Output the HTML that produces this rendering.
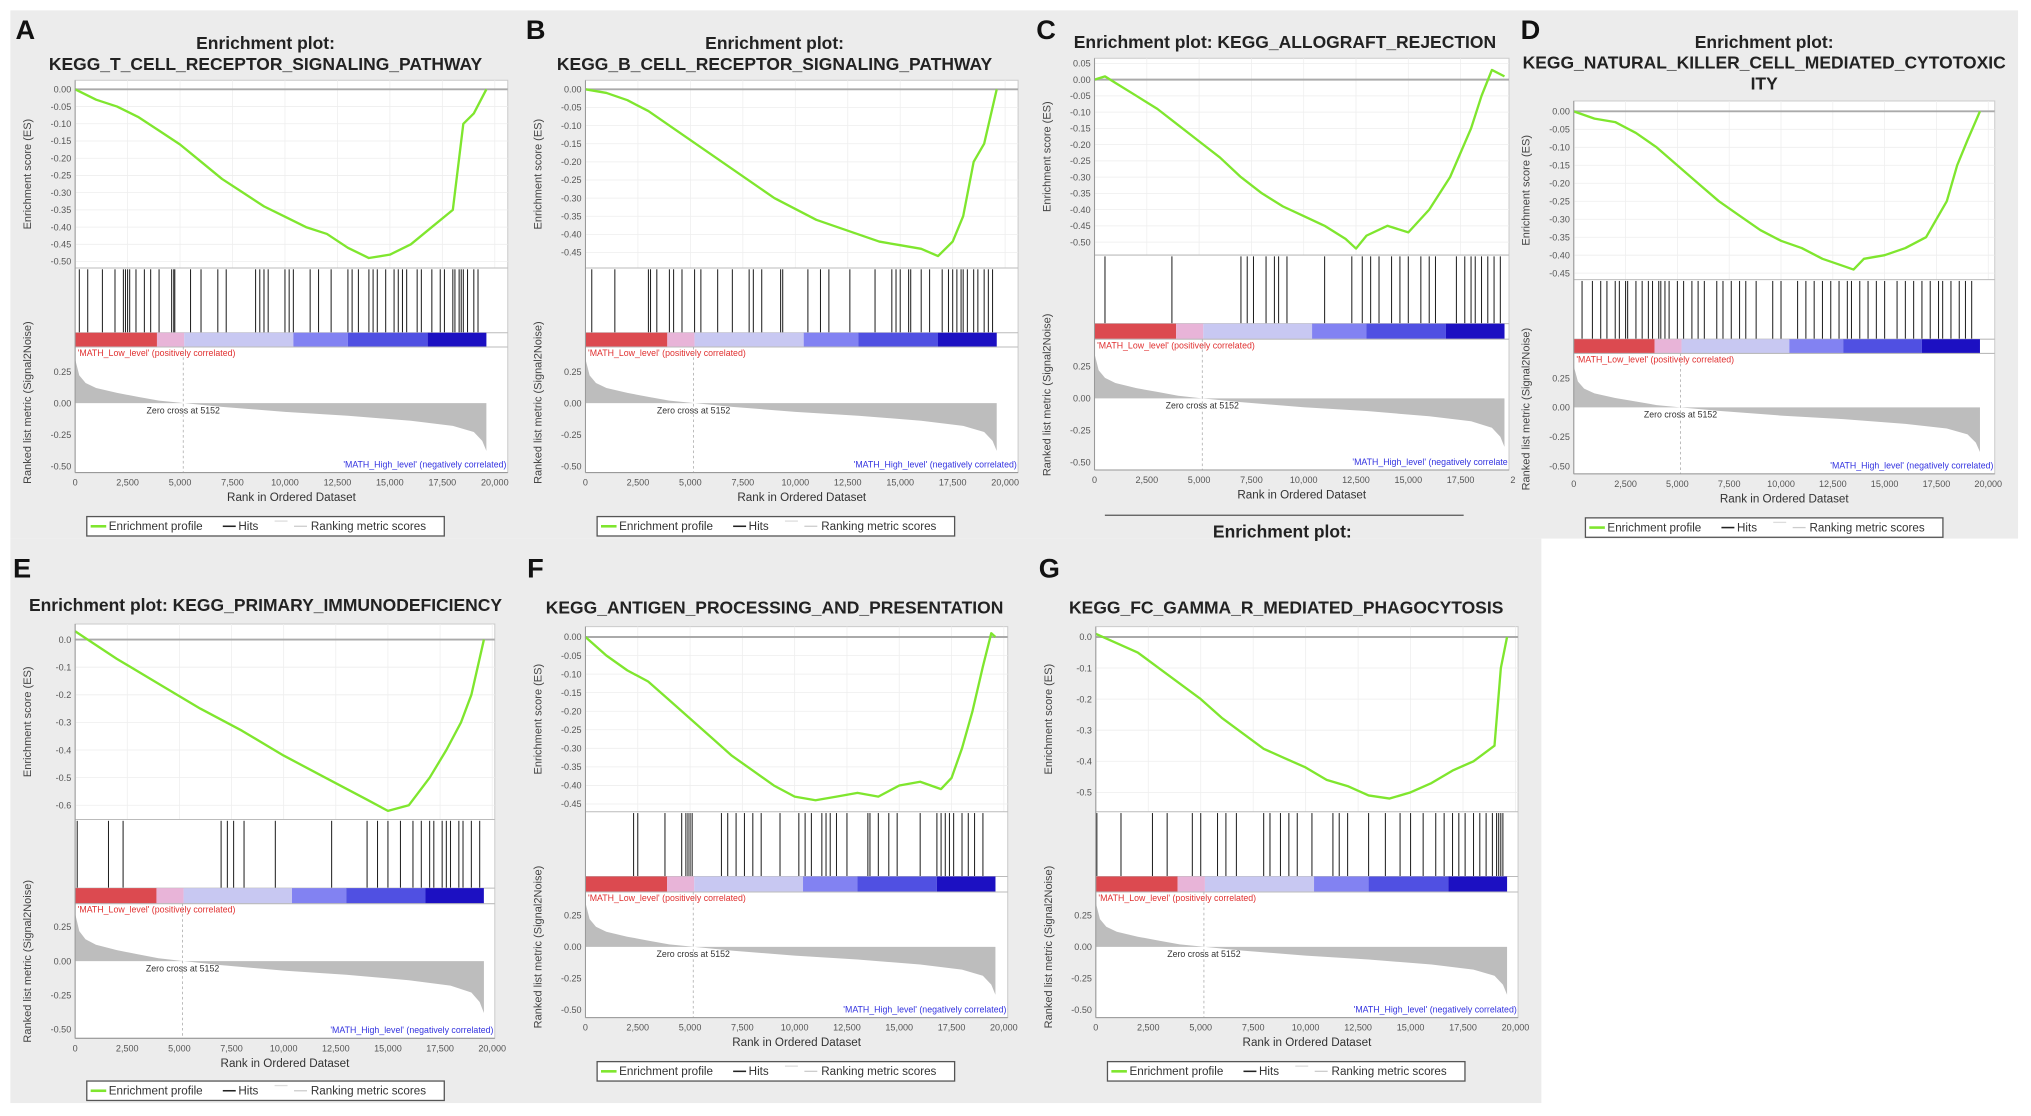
<!DOCTYPE html>
<html><head><meta charset="utf-8"><style>
html,body{margin:0;padding:0;background:#fff;}
svg{display:block;font-family:"Liberation Sans",sans-serif;}
</style></head><body>
<svg id="fig" width="2031" height="1116" viewBox="0 0 1568 862" preserveAspectRatio="none" xmlns="http://www.w3.org/2000/svg">
<rect x="0" y="0" width="1568" height="862" fill="#fff"/>
<rect x="8" y="8" width="1550" height="408" fill="#ececec"/>
<rect x="8" y="416" width="1182" height="436" fill="#ececec"/>
</svg>
<script>
// ---- data (rank in thousands) ----
const esRanksA=[0,1,2,3,4,5,6,7,8,9,10,11,12,13,14,15,16,17,18,18.5,19,19.6];
const esValsA=[0,-0.03,-0.05,-0.08,-0.12,-0.16,-0.21,-0.26,-0.30,-0.34,-0.37,-0.40,-0.42,-0.46,-0.49,-0.48,-0.45,-0.40,-0.35,-0.10,-0.07,0];
const esRanksB=[0,1,2,3,4,5,6,7,8,9,10,11,12,13,14,15,16,16.8,17.5,18,18.5,19,19.6];
const esValsB=[0,-0.01,-0.03,-0.06,-0.10,-0.14,-0.18,-0.22,-0.26,-0.30,-0.33,-0.36,-0.38,-0.40,-0.42,-0.43,-0.44,-0.46,-0.42,-0.35,-0.20,-0.15,0];
const esRanksC=[0,0.5,1,2,3,4,5,6,7,8,9,10,11,12,12.5,13,14,15,16,17,18,18.5,19,19.6];
const esValsC=[0,0.01,-0.01,-0.05,-0.09,-0.14,-0.19,-0.24,-0.30,-0.35,-0.39,-0.42,-0.45,-0.49,-0.52,-0.48,-0.45,-0.47,-0.40,-0.30,-0.15,-0.05,0.03,0.01];
const esRanksD=[0,1,2,3,4,5,6,7,8,9,10,11,12,13,13.5,14,15,16,17,18,18.5,19,19.6];
const esValsD=[0,-0.02,-0.03,-0.06,-0.10,-0.15,-0.20,-0.25,-0.29,-0.33,-0.36,-0.38,-0.41,-0.43,-0.44,-0.41,-0.40,-0.38,-0.35,-0.25,-0.15,-0.08,0];
const esRanksE=[0,2,4,6,8,10,12,14,15,16,17,17.8,18.5,19,19.6];
const esValsE=[0.03,-0.07,-0.16,-0.25,-0.33,-0.42,-0.50,-0.58,-0.62,-0.60,-0.50,-0.40,-0.30,-0.20,0];
const esRanksF=[0,1,2,3,4,5,6,7,8,9,10,11,12,13,14,15,16,17,17.5,18,18.5,19,19.4,19.6];
const esValsF=[0,-0.05,-0.09,-0.12,-0.17,-0.22,-0.27,-0.32,-0.36,-0.40,-0.43,-0.44,-0.43,-0.42,-0.43,-0.40,-0.39,-0.41,-0.38,-0.30,-0.20,-0.08,0.01,0];
const esRanksG=[0,1,2,3,4,5,6,7,8,9,10,11,12,13,14,15,16,17,18,19,19.3,19.6];
const esValsG=[0.01,-0.02,-0.05,-0.10,-0.15,-0.20,-0.26,-0.31,-0.36,-0.39,-0.42,-0.46,-0.48,-0.51,-0.52,-0.50,-0.47,-0.43,-0.40,-0.35,-0.10,0];
const hitsA=[0.2,0.6,1.3,1.9,2.3,2.4,2.5,2.6,2.9,3.3,3.6,4.0,4.6,4.7,4.75,5.5,6.0,6.8,7.2,8.6,8.8,9.0,9.2,10.0,10.2,10.4,11.2,11.6,12.2,13.0,13.2,13.5,14.0,14.2,14.4,14.8,15.2,15.4,15.6,15.8,16.3,16.5,17.0,17.4,17.6,18.0,18.1,18.3,18.4,18.5,18.7,19.0,19.2];
const hitsB=[0.3,1.4,3.0,3.1,3.4,4.0,4.2,4.6,5.2,5.5,6.3,7.0,7.8,8.0,8.4,9.3,9.4,10.6,11.2,11.6,12.6,13.8,14.6,14.8,15.0,15.4,15.5,16.0,16.4,17.0,17.3,17.5,17.7,17.9,18.0,18.2,18.5,18.7,19.0,19.2,19.4];
const hitsC=[0.5,3.7,7.0,7.3,7.6,8.2,8.6,8.8,9.2,11.0,12.3,12.8,13.2,13.6,14.2,14.6,15.0,15.6,16.0,16.3,17.3,17.7,18.0,18.2,18.5,18.8,19.1,19.4];
const hitsD=[0.4,0.9,1.3,1.6,2.0,2.2,2.5,2.6,3.0,3.3,3.6,3.8,4.1,4.2,4.4,4.6,5.0,5.3,5.7,6.0,6.3,6.9,7.2,7.6,8.0,8.3,8.8,9.6,10.0,10.8,11.2,11.6,12.0,12.4,12.8,13.2,13.4,13.8,14.2,14.6,15.0,15.6,16.0,16.4,16.8,17.2,17.6,17.8,18.2,18.6,18.9,19.2];
const hitsE=[0.1,1.6,2.3,7.0,7.3,7.6,8.1,9.6,12.3,14.0,14.5,15.0,15.6,16.2,16.6,17.0,17.2,17.6,17.8,18.0,18.4,18.6,19.0,19.4];
const hitsF=[2.3,2.5,3.8,4.6,4.8,4.9,5.0,5.1,6.5,6.8,7.2,7.6,8.0,8.4,9.3,10.2,10.5,10.8,11.3,11.5,11.7,12.0,12.5,13.5,13.6,14.0,14.5,14.9,16.0,16.8,17.0,17.2,17.4,17.6,18.0,18.3,18.6,19.0];
const hitsG=[0.05,1.2,2.7,3.4,4.6,5.0,5.8,6.2,6.7,8.0,8.3,8.8,9.2,9.6,10.3,11.3,11.6,12.0,13.0,13.8,14.5,15.0,15.6,16.2,16.6,17.0,17.3,17.6,18.0,18.3,18.6,18.9,19.1,19.2,19.3,19.4];
const rkRanks=[0,0.2,0.5,1,2,3,4,5.15,7,10,13,16,18,19,19.4,19.6];
const rkVals=[0.35,0.22,0.16,0.12,0.08,0.05,0.02,0,-0.03,-0.07,-0.10,-0.14,-0.18,-0.23,-0.30,-0.38];
const xTickVals=[0,2.5,5,7.5,10,12.5,15,17.5,20];
const xTickLabels=['0','2,500','5,000','7,500','10,000','12,500','15,000','17,500','20,000'];
const rkTicks=[0.25,0,-0.25,-0.5];
const rkTickLabels=['0.25','0.00','-0.25','-0.50'];
const cbStops=[0,3.9,5.2,10.4,13,16.8,19.6];
const cbColors=['#dc4a50','#e8b4d8','#c8c8f2','#8282f2','#5050e2','#1c10c2'];

const panels=[
 {id:'a',L:'A',lx:12,ly:30,title:['Enrichment plot:','KEGG_T_CELL_RECEPTOR_SIGNALING_PATHWAY'],tx:205,ty:[38,54],x0:58,x20:382,fr:392,top:62,es:[0,69,-0.5,202],esT:[0,-0.5,0.05,2],esB:207,hB:257,cB:268,rk:[0.25,287,-0.5,360],ax:365,legY:399,legX:67,r:esRanksA,v:esValsA,h:hitsA,cut:false},
 {id:'b',L:'B',lx:406,ly:30,title:['Enrichment plot:','KEGG_B_CELL_RECEPTOR_SIGNALING_PATHWAY'],tx:598,ty:[38,54],x0:452,x20:776,fr:786,top:62,es:[0,69,-0.45,195],esT:[0,-0.45,0.05,2],esB:207,hB:257,cB:268,rk:[0.25,287,-0.5,360],ax:365,legY:399,legX:461,r:esRanksB,v:esValsB,h:hitsB,cut:false},
 {id:'c',L:'C',lx:800,ly:30,title:['Enrichment plot: KEGG_ALLOGRAFT_REJECTION'],tx:992,ty:[37],x0:845,x20:1168,fr:1165,top:45,es:[0,61.5,-0.5,187],esT:[0.05,-0.5,0.05,2],esB:197,hB:250,cB:262,rk:[0.25,283,-0.5,357],ax:363,legY:null,legX:853,r:esRanksC,v:esValsC,h:hitsC,cut:true},
 {id:'d',L:'D',lx:1174,ly:30,title:['Enrichment plot:','KEGG_NATURAL_KILLER_CELL_MEDIATED_CYTOTOXIC','ITY'],tx:1362,ty:[37,53,69],x0:1215,x20:1535,fr:1540,top:78,es:[0,86,-0.45,211],esT:[0,-0.45,0.05,2],esB:216,hB:262,cB:273,rk:[0.25,292,-0.5,360],ax:366,legY:400,legX:1224,r:esRanksD,v:esValsD,h:hitsD,cut:false},
 {id:'e',L:'E',lx:10,ly:446,title:['Enrichment plot: KEGG_PRIMARY_IMMUNODEFICIENCY'],tx:205,ty:[472],x0:58,x20:380,fr:382,top:482,es:[0,494,-0.6,622],esT:[0,-0.6,0.1,1],esB:633,hB:686,cB:698,rk:[0.25,716,-0.5,795],ax:802,legY:835,legX:67,r:esRanksE,v:esValsE,h:hitsE,cut:false},
 {id:'f',L:'F',lx:407,ly:446,title:['KEGG_ANTIGEN_PROCESSING_AND_PRESENTATION'],tx:598,ty:[474],x0:452,x20:775,fr:778,top:484,es:[0,492,-0.45,621],esT:[0,-0.45,0.05,2],esB:627,hB:677,cB:689,rk:[0.25,707,-0.5,780],ax:786,legY:820,legX:461,r:esRanksF,v:esValsF,h:hitsF,cut:false},
 {id:'g',L:'G',lx:802,ly:446,title:['KEGG_FC_GAMMA_R_MEDIATED_PHAGOCYTOSIS'],tx:993,ty:[474],x0:846,x20:1170,fr:1172,top:484,es:[0,492,-0.5,612],esT:[0,-0.5,0.1,1],esB:627,hB:677,cB:689,rk:[0.25,707,-0.5,780],ax:786,legY:820,legX:855,r:esRanksG,v:esValsG,h:hitsG,cut:false}
];
const NS='http://www.w3.org/2000/svg';
const svg=document.getElementById('fig');
function mk(tag,attrs,parent,text){const e=document.createElementNS(NS,tag);for(const k in attrs)e.setAttribute(k,attrs[k]);if(text!==undefined)e.textContent=text;(parent||svg).appendChild(e);return e;}

panels.forEach(p=>{
 const g=mk('g',{});
 
 
 const X=r=>p.x0+(r/20)*(p.x20-p.x0);
 const YE=v=>p.es[1]+(v-p.es[0])*(p.es[3]-p.es[1])/(p.es[2]-p.es[0]);
 const YR=v=>p.rk[1]+(v-p.rk[0])*(p.rk[3]-p.rk[1])/(p.rk[2]-p.rk[0]);
 const lab=mk('text',{x:p.lx,y:p.ly,'font-size':21,'font-weight':'bold',fill:'#111'},g,p.L);
 
 
 p.title.forEach((t,i)=>{const te=mk('text',{x:p.tx,y:p.ty[i],'font-size':13.5,'font-weight':'bold','text-anchor':'middle',fill:'#222'},g,t);
  
  });
 // plot area
 const fr=mk('rect',{x:p.x0,y:p.top,width:p.fr-p.x0,height:p.ax-p.top,fill:'#fff',stroke:'#ccc','stroke-width':0.8},g);
 
 
 // gridlines vertical
 xTickVals.forEach(t=>{ if(X(t)<=p.fr) mk('line',{x1:X(t),x2:X(t),y1:p.top,y2:p.esB,stroke:'#eee','stroke-width':0.6},g);});
 // ES ticks
 const [t0,t1,st,dec]=p.esT;
 for(let v=t0;v>=t1-1e-9;v-=st){const y=YE(v);
  mk('line',{x1:p.x0,x2:p.fr,y1:y,y2:y,stroke:'#eee','stroke-width':0.6},g);
  const tl=mk('text',{x:p.x0-3,y:y+2.5,'font-size':7,'text-anchor':'end',fill:'#555'},g,(Math.abs(v)<1e-9?0:v).toFixed(dec));
  
  }
 mk('line',{x1:p.x0,x2:p.fr,y1:YE(0),y2:YE(0),stroke:'#aaa','stroke-width':1.5},g);
 mk('line',{x1:p.x0,x2:p.fr,y1:p.esB,y2:p.esB,stroke:'#bbb','stroke-width':0.8},g);
 // ES curve
 let d=p.r.map((r,i)=>(i?'L':'M')+X(r).toFixed(1)+' '+YE(p.v[i]).toFixed(1)).join(' ');
 const es=mk('path',{d:d,fill:'none',stroke:'#7fe62e','stroke-width':1.8,'stroke-linejoin':'round'},g);
 
 
 // hits
 p.h.forEach(h=>{const hl=mk('line',{x1:X(h),x2:X(h),y1:p.esB+1,y2:p.hB,stroke:'#222','stroke-width':0.8},g);
  
  });
 mk('line',{x1:p.x0,x2:p.fr,y1:p.hB,y2:p.hB,stroke:'#bbb','stroke-width':0.8},g);
 // colour bar
 for(let i=0;i<cbColors.length;i++){const cb=mk('rect',{x:X(cbStops[i]),y:p.hB,width:X(cbStops[i+1])-X(cbStops[i]),height:p.cB-p.hB,fill:cbColors[i]},g);
  
  }
 mk('line',{x1:p.x0,x2:p.fr,y1:p.cB,y2:p.cB,stroke:'#bbb','stroke-width':0.8},g);
 const pl=mk('text',{x:p.x0+2,y:p.cB+7,'font-size':6.8,fill:'#e03030'},g,"'MATH_Low_level' (positively correlated)");
 
 
 // ranking metric
 rkTicks.forEach((v,i)=>{const y=YR(v);const tl=mk('text',{x:p.x0-3,y:y+2.5,'font-size':7,'text-anchor':'end',fill:'#555'},g,rkTickLabels[i]);
  
  });
 let rd='M'+X(0)+' '+YR(0)+' '+rkRanks.map((r,i)=>'L'+X(r).toFixed(1)+' '+YR(rkVals[i]).toFixed(1)).join(' ')+' L'+X(rkRanks[rkRanks.length-1]).toFixed(1)+' '+YR(0)+' Z';
 const rk=mk('path',{d:rd,fill:'#bdbdbd',stroke:'none'},g);
 
 
 mk('line',{x1:X(5.152),x2:X(5.152),y1:p.cB,y2:p.ax,stroke:'#aaa','stroke-width':0.6,'stroke-dasharray':'2,2'},g);
 const zc=mk('text',{x:X(5.152),y:YR(0)+8,'font-size':6.8,'text-anchor':'middle',fill:'#333'},g,'Zero cross at 5152');
 
 
 const nl=mk('text',{x:p.fr-1,y:p.ax-4,'font-size':6.8,'text-anchor':'end',fill:'#3333e0'},g,p.cut?"'MATH_High_level' (negatively correlate":"'MATH_High_level' (negatively correlated)");
 
 
 mk('line',{x1:p.x0,x2:p.fr,y1:p.ax,y2:p.ax,stroke:'#999','stroke-width':0.8},g);
 mk('line',{x1:p.x0,x2:p.x0,y1:p.top,y2:p.ax,stroke:'#999','stroke-width':0.8},g);
 // x ticks
 xTickVals.forEach((t,i)=>{let s=xTickLabels[i];if(p.cut&&t===20)s='2';
  const tl=mk('text',{x:X(t),y:p.ax+10,'font-size':7,'text-anchor':'middle',fill:'#555'},g,s);
  
  });
 const xt=mk('text',{x:(p.x0+p.fr)/2,y:p.ax+22,'font-size':9,'text-anchor':'middle',fill:'#333'},g,'Rank in Ordered Dataset');
 
 
 const ymid=(p.top+p.esB)/2, yx=p.x0-34;
 const yt=mk('text',{x:yx,y:ymid,'font-size':8.5,'text-anchor':'middle',fill:'#444',transform:`rotate(-90 ${yx} ${ymid})`},g,'Enrichment score (ES)');
 
 
 const rmid=(p.esB+p.ax)/2+25;
 const yt2=mk('text',{x:yx,y:rmid,'font-size':8.5,'text-anchor':'middle',fill:'#444',transform:`rotate(-90 ${yx} ${rmid})`},g,'Ranked list metric (Signal2Noise)');
 
 
 // legend
 if(p.legY!==null){
  const lg=mk('g',{},g);
  
  
  mk('rect',{x:p.legX,y:p.legY,width:276,height:15,fill:'#fff',stroke:'#555','stroke-width':1},lg);
  const yy=p.legY+7.5;
  mk('line',{x1:p.legX+3,x2:p.legX+15,y1:yy,y2:yy,stroke:'#7fe62e','stroke-width':2},lg);
  mk('text',{x:p.legX+17,y:yy+3,'font-size':9,fill:'#333'},lg,'Enrichment profile');
  mk('line',{x1:p.legX+105,x2:p.legX+115,y1:yy,y2:yy,stroke:'#222','stroke-width':1.2},lg);
  mk('text',{x:p.legX+117,y:yy+3,'font-size':9,fill:'#333'},lg,'Hits');
  mk('line',{x1:p.legX+145,x2:p.legX+155,y1:yy-4,y2:yy-4,stroke:'#ddd','stroke-width':1},lg);
  mk('line',{x1:p.legX+160,x2:p.legX+170,y1:yy,y2:yy,stroke:'#ccc','stroke-width':1},lg);
  mk('text',{x:p.legX+173,y:yy+3,'font-size':9,fill:'#333'},lg,'Ranking metric scores');
 } else {
  mk('line',{x1:853,x2:1130,y1:398,y2:398,stroke:'#555','stroke-width':1},g);
  const et=mk('text',{x:990,y:415,'font-size':13.5,'font-weight':'bold','text-anchor':'middle',fill:'#222'},g,'Enrichment plot:');
  
  
 }
});
</script>
</body></html>
